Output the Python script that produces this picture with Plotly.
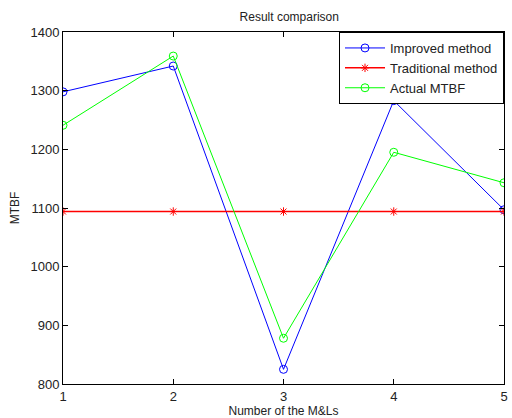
import plotly.graph_objects as go

x_vals = [1, 2, 3, 4, 5]
improved = [1298, 1342, 825, 1283, 1097]
traditional = [1094, 1094, 1094, 1094, 1094]
actual = [1241, 1359, 878, 1195, 1143]
y_ticks = [800, 900, 1000, 1100, 1200, 1300, 1400]

fig = go.Figure()
fig.add_trace(go.Scatter(x=x_vals, y=improved, mode="lines+markers", name="Improved method",
                         line=dict(color="#0000ff", width=1),
                         marker=dict(symbol="circle-open", size=8, color="#0000ff", line=dict(width=1))))
fig.add_trace(go.Scatter(x=x_vals, y=traditional, mode="lines+markers", name="Traditional method",
                         line=dict(color="rgb(255,0,0)", width=1.5),
                         marker=dict(symbol="asterisk-open", size=7, color="rgb(255,0,0)",
                                     line=dict(width=1, color="rgb(255,0,0)"))))
fig.add_trace(go.Scatter(x=x_vals, y=actual, mode="lines+markers", name="Actual MTBF",
                         line=dict(color="#00ff00", width=1),
                         marker=dict(symbol="circle-open", size=8, color="#00ff00", line=dict(width=1))))

fig.update_layout(
    width=512, height=418,
    margin=dict(l=63, r=4, t=32, b=33),
    paper_bgcolor="white", plot_bgcolor="white",
    hovermode=False,
    font=dict(family="Liberation Sans, Arial, sans-serif", size=12, color="#222"),
    title=dict(text="Result comparison", x=0.565, xanchor="center", y=0.96, yanchor="middle",
               font=dict(size=12, color="#222")),
    showlegend=True,
    legend=dict(x=1, xanchor="right", y=1, yanchor="top", bordercolor="black", borderwidth=1,
                bgcolor="white", font=dict(size=13, color="#222"), tracegroupgap=0,
                itemwidth=40),
)
fig.update_xaxes(range=[1, 5], tickvals=x_vals, ticks="inside", ticklen=5, tickcolor="black",
                 showline=True, linecolor="black", linewidth=1, mirror="ticks", showgrid=False,
                 zeroline=False, title=dict(text="Number of the M&Ls", font=dict(size=12), standoff=2),
                 tickfont=dict(size=13))
fig.update_yaxes(range=[800, 1400], tickvals=y_ticks, ticks="inside", ticklen=5, tickcolor="black",
                 showline=True, linecolor="black", linewidth=1, mirror="ticks", showgrid=False,
                 zeroline=False, title=dict(text="MTBF", font=dict(size=12), standoff=8),
                 tickfont=dict(size=13))

fig.write_html("out.html", config={"displayModeBar": False},
               post_script="document.body.style.margin='0';document.body.style.overflow='hidden';")
